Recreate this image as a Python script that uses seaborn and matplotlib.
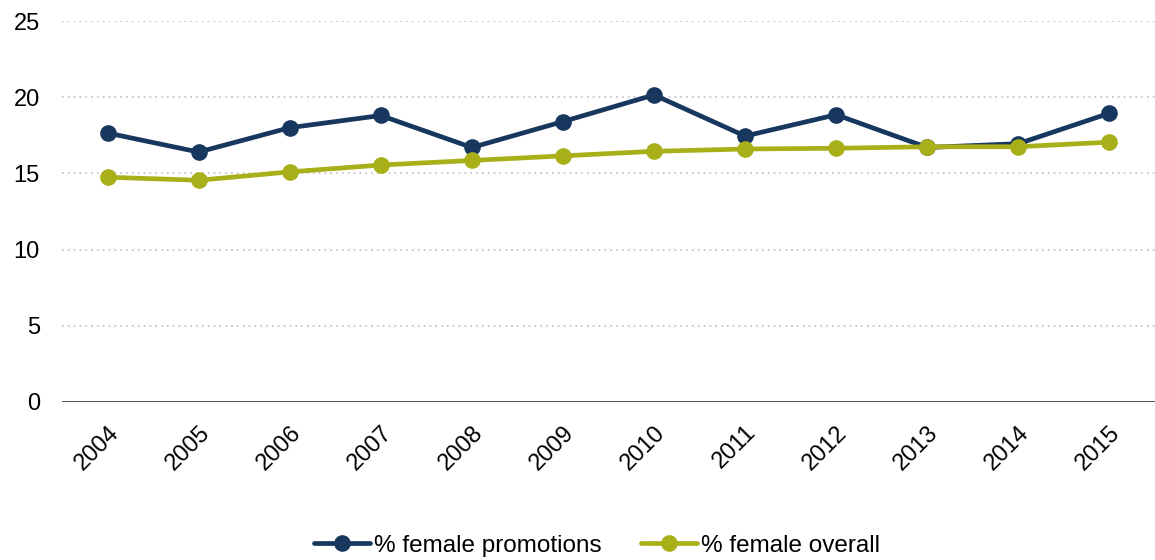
import numpy as np
import pandas as pd
import matplotlib
matplotlib.use("Agg")
import matplotlib.pyplot as plt
import seaborn as sns

years = [2004, 2005, 2006, 2007, 2008, 2009, 2010, 2011, 2012, 2013, 2014, 2015]
female_promotions = [17.65, 16.4, 18.0, 18.8, 16.7, 18.4, 20.15, 17.45, 18.85, 16.7, 16.95, 18.95]
female_overall = [14.75, 14.55, 15.1, 15.55, 15.85, 16.15, 16.45, 16.6, 16.65, 16.75, 16.75, 17.05]
series_names = ["% female promotions", "% female overall"]
colors = ["#17375E", "#A9AF19"]

df = pd.DataFrame({
    "year": years * 2,
    "value": female_promotions + female_overall,
    "series": [series_names[0]] * len(years) + [series_names[1]] * len(years),
})

sns.set_style("white")
plt.rcParams["font.family"] = ["Liberation Sans", "DejaVu Sans"]
plt.rcParams["text.color"] = "black"
plt.rcParams["xtick.color"] = "black"
plt.rcParams["ytick.color"] = "black"

fig = plt.figure(figsize=(11.55, 5.6), dpi=100)
ax = fig.add_axes([62 / 1155, 1 - 402 / 560, 1 - 62 / 1155, (402 - 21) / 560])

sns.lineplot(data=df, x="year", y="value", hue="series", palette=colors,
             marker="o", markersize=12, markeredgewidth=0, linewidth=3.4,
             ax=ax, legend=False)

ax.set_xlim(2003.5, 2015.5)
ax.set_ylim(0, 25)
ax.set_yticks([0, 5, 10, 15, 20, 25])
ax.set_xticks(years)
ax.set_xticklabels([str(y) for y in years], rotation=45, ha="right",
                   rotation_mode="anchor", fontsize=17)
ax.tick_params(axis="y", labelsize=17, length=0, pad=16)
ax.tick_params(axis="x", length=0, pad=14)
ax.set_xlabel("")
ax.set_ylabel("")

for y in [5, 10, 15, 20, 25]:
    ax.axhline(y, color="#bdbdbd", linestyle=(0, (1, 2.5)), linewidth=1.2, zorder=0)
ax.axhline(0, color="#404040", linewidth=2, zorder=1)

for s in ax.spines.values():
    s.set_visible(False)

handles = [plt.Line2D([], [], color=c, linewidth=3.4, marker="o", markersize=12,
                      markeredgewidth=0) for c in colors]
fig.legend(handles, series_names, loc="lower center", bbox_to_anchor=(0.517, -0.033),
           ncol=2, frameon=False, handlelength=2.3, handletextpad=0.15,
           columnspacing=1.65, prop={"family": ["Liberation Sans", "DejaVu Sans"], "size": 17.5})

fig.savefig("out.png", dpi=100)
